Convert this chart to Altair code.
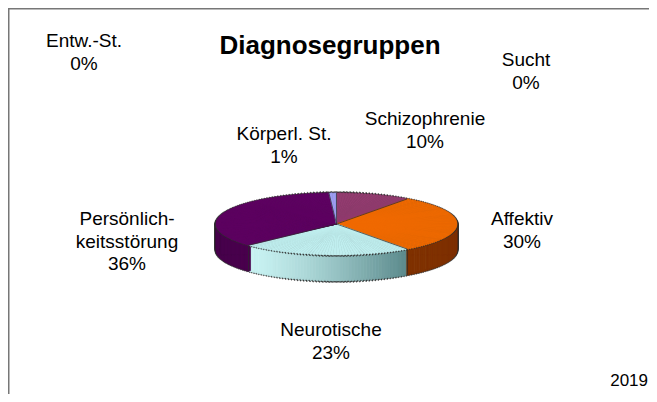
import altair as alt
import pandas as pd

# ---------------- data ----------------
categories = ["Schizophrenie", "Affektiv", "Neurotische", "Persönlichkeitsstörung",
              "Körperl. St.", "Entw.-St.", "Sucht"]
values = [10, 30, 23, 36, 1, 0, 0]
label_names = ["Schizophrenie", "Affektiv", "Neurotische", "Persönlich-\nkeitsstörung",
               "Körperl. St.", "Entw.-St.", "Sucht"]
title_text = "Diagnosegruppen"
year_text = "2019"

# ---------------- styles / layout ----------------
top_colors = ["#923B6F", "#F06A00", "#C0EEEF", "#5E0062", "#9C9CF2", "#BBBBBB", "#BBBBBB"]
side_colors = ["#5E2145", "#7E3000", "GRAD", "#48004C", "#6666B0", "#888888", "#888888"]
label_x = [417, 514, 323, 119, 276, 76, 518]
label_y = [111, 211, 322, 211, 126, 33, 52]   # centre of first line

W, H = 641, 386
CX, CY = 328.5, 216.0      # pie centre (px)
A, B, D = 120.5, 31.0, 26  # ellipse half-axes and depth (px)
STEP = "(PI/120)"

slices = pd.DataFrame({
    "idx": list(range(len(categories))),
    "cat": categories,
    "value": values,
    "top": top_colors,
    "side": side_colors,
})

labels = pd.DataFrame({
    "txt": [f"{n}\n{v}%" for n, v in zip(label_names, values)],
    "lx": label_x,
    "ly": label_y,
})


def angles(ch):
    return (ch.transform_window(cum="sum(value)", sort=[alt.SortField("idx")], frame=[None, 0])
              .transform_joinaggregate(total="sum(value)")
              .transform_calculate(th0="2*PI*(datum.cum - datum.value)/datum.total",
                                   th1="2*PI*datum.cum/datum.total"))


def phi(t):
    at = f"atan2({A}*sin({t}), {B}*cos({t}))"
    return f"({t} <= 0 ? 0 : ({at} <= 0 ? {at} + 2*PI : {at}))"


def slivers(ch):
    return (angles(ch)
            .transform_calculate(n=f"ceil((datum.th1 - datum.th0)/{STEP} - 1e-9)")
            .transform_calculate(ks="sequence(0, datum.n)")
            .transform_flatten(["ks"], as_=["k"])
            .transform_calculate(t0=f"datum.th0 + datum.k*{STEP}",
                                 t1=f"min(datum.th1, datum.th0 + (datum.k + 1)*{STEP})")
            .transform_calculate(tm="(datum.t0 + datum.t1)/2")
            .transform_calculate(p0=phi("datum.t0"), p1=phi("datum.t1"),
                                 rho=f"sqrt(pow({A}*sin(datum.tm), 2) + pow({B}*cos(datum.tm), 2))")
            .transform_calculate(ro="datum.rho + 1.2", rin="datum.rho - 3",
                                 cx=f"{CX}", cy=f"{CY}"))


theta = alt.Theta("p0:Q", scale=None, stack=None)
theta2 = alt.Theta2("p1:Q")
X = alt.X("cx:Q", scale=None, axis=None, stack=None)

grad = ("datum.side == 'GRAD' ? 'rgb(' + round(200 + (92 - 200)*datum.u) + ',' + "
        "round(242 + (138 - 242)*datum.u) + ',' + round(242 + (140 - 242)*datum.u) + ')' : datum.side")


def side_base():
    return (slivers(alt.Chart(slices))
            .transform_filter("cos(datum.tm) < 0.1")
            .transform_calculate(ss=f"sequence(0, {D + 1})")
            .transform_flatten(["ss"], as_=["s"])
            .transform_calculate(yy=f"{CY} + datum.s",
                                 u="pow(clamp((sin(datum.tm) - sin(datum.th1)) / (sin(datum.th0) - sin(datum.th1) + 1e-9), 0, 1), 1.3)")
            .transform_calculate(sc=grad))


YS = alt.Y("yy:Q", scale=None, axis=None, stack=None)
YC = alt.Y("cy:Q", scale=None, axis=None, stack=None)

side_dark = (side_base()
             .transform_filter(f"datum.s == {D} || abs(sin(datum.tm)) > 0.985")
             .mark_arc(fill="#2e2e2e", stroke="#2e2e2e", strokeWidth=0.5)
             .encode(x=X, y=YS, theta=theta, theta2=theta2,
                     radius=alt.Radius("ro:Q", scale=None), radius2=alt.Radius2("rin:Q")))

side = (side_base()
        .mark_arc(strokeWidth=0.5)
        .encode(x=X, y=YS, theta=theta, theta2=theta2,
                radius=alt.Radius("rho:Q", scale=None), radius2=alt.Radius2("rin:Q"),
                fill=alt.Fill("sc:N", scale=None), stroke=alt.Stroke("sc:N", scale=None)))

outline = (slivers(alt.Chart(slices))
           .mark_arc(fill="#2e2e2e", stroke="#2e2e2e", strokeWidth=0.5)
           .encode(x=X, y=YC, theta=theta, theta2=theta2,
                   radius=alt.Radius("ro:Q", scale=None)))

top = (slivers(alt.Chart(slices))
       .mark_arc(strokeWidth=0.6)
       .encode(x=X, y=YC, theta=theta, theta2=theta2,
               radius=alt.Radius("rho:Q", scale=None),
               fill=alt.Fill("top:N", scale=None), stroke=alt.Stroke("top:N", scale=None)))

radial = (angles(alt.Chart(slices))
          .transform_filter("datum.value > 0")
          .transform_calculate(cx=f"{CX}", cy=f"{CY}",
                               ex=f"{CX} + {A}*sin(datum.th0)",
                               ey=f"{CY} - {B}*cos(datum.th0)")
          .mark_rule(color="#2b2b2b", strokeWidth=0.7)
          .encode(x=alt.X("cx:Q", scale=None, axis=None), y=alt.Y("cy:Q", scale=None, axis=None),
                  x2="ex:Q", y2="ey:Q"))

vertical = (angles(alt.Chart(slices))
            .transform_filter("datum.value > 0 && cos(datum.th0) < 0")
            .transform_calculate(ex=f"{CX} + {A}*sin(datum.th0)",
                                 ey=f"{CY} - {B}*cos(datum.th0)")
            .transform_calculate(ey2=f"datum.ey + {D}")
            .mark_rule(color="#2b2b2b", strokeWidth=0.7)
            .encode(x=alt.X("ex:Q", scale=None, axis=None), y=alt.Y("ey:Q", scale=None, axis=None),
                    y2="ey2:Q"))

one = pd.DataFrame({"d": [0]})
frame_top = alt.Chart(one).mark_rule(color="#777777", strokeWidth=1.5).encode(
    x=alt.value(0), x2=alt.value(W), y=alt.value(0.75))
frame_left = alt.Chart(one).mark_rule(color="#777777", strokeWidth=1.5).encode(
    x=alt.value(0.75), y=alt.value(0), y2=alt.value(H))

label_layer = alt.Chart(labels).mark_text(
    font="Liberation Sans", fontSize=19, lineBreak="\n", lineHeight=22.5,
    align="center", baseline="middle", color="#000000"
).encode(x=alt.X("lx:Q", scale=None, axis=None), y=alt.Y("ly:Q", scale=None, axis=None),
         text="txt:N")

title = alt.Chart(one).mark_text(
    text=title_text, font="Liberation Sans", fontSize=26, fontWeight="bold",
    align="center", baseline="middle", color="#000000"
).encode(x=alt.value(322), y=alt.value(38))

year = alt.Chart(one).mark_text(
    text=year_text, font="Liberation Sans", fontSize=17,
    align="right", baseline="middle", color="#000000"
).encode(x=alt.value(640), y=alt.value(373))

chart = alt.layer(
    frame_top, frame_left, side_dark, side, outline, top, radial, vertical,
    label_layer, title, year
).properties(width=W, height=H, padding=0, autosize="none"
).configure_view(stroke=None).configure(background="white")

chart.save("out.html", embed_options={"renderer": "svg", "actions": False})
